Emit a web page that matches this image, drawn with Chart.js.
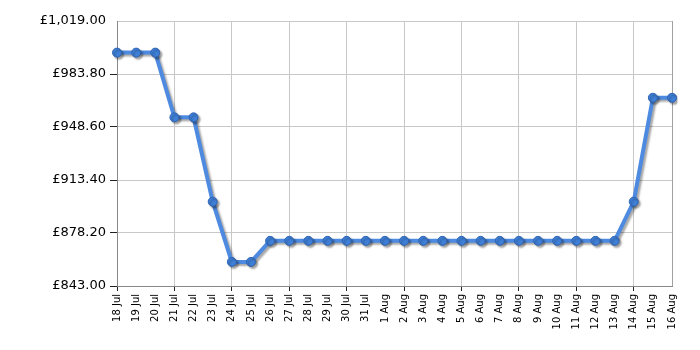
<!DOCTYPE html>
<html>
<head>
<meta charset="utf-8">
<script src="https://cdn.jsdelivr.net/npm/chart.js@4"></script>
<style>
  body { margin:0; background:#fff; }
</style>
</head>
<body>
<canvas id="price_chart" width="700" height="350"></canvas>
<script>
// data
var dates = ["18 Jul","19 Jul","20 Jul","21 Jul","22 Jul","23 Jul","24 Jul","25 Jul","26 Jul","27 Jul",
  "28 Jul","29 Jul","30 Jul","31 Jul","1 Aug","2 Aug","3 Aug","4 Aug","5 Aug","6 Aug",
  "7 Aug","8 Aug","9 Aug","10 Aug","11 Aug","12 Aug","13 Aug","14 Aug","15 Aug","16 Aug"];
var prices = [998, 998, 998, 955, 955, 899, 859, 859, 873, 873,
  873, 873, 873, 873, 873, 873, 873, 873, 873, 873,
  873, 873, 873, 873, 873, 873, 873, 899, 968, 968];
var yTicks = [843.00, 878.20, 913.40, 948.60, 983.80, 1019.00];

// grey drop shadow under the line + frame round the plot
var shadowPlugin = {
  id: "shadow",
  beforeDatasetsDraw: function(chart) {
    var ctx = chart.ctx;
    ctx.save();
    ctx.shadowColor = "rgba(0,0,0,0.35)";
    ctx.shadowBlur = 2;
    ctx.shadowOffsetX = 2;
    ctx.shadowOffsetY = 2;
  },
  afterDatasetsDraw: function(chart) {
    chart.ctx.restore();
  },
  beforeDraw: function(chart) {
    var a = chart.chartArea, ctx = chart.ctx;
    ctx.save();
    ctx.strokeStyle = "#a0a0a0";
    ctx.lineWidth = 1;
    ctx.strokeRect(a.left + 0.5, a.top + 0.5, a.right - a.left, a.bottom - a.top);
    ctx.restore();
  }
};

var c1 = document.getElementById("price_chart").getContext("2d");
var price_chart = new Chart(c1, {
  type: "line",
  data: {
    labels: dates,
    datasets: [{
      data: prices,
      borderColor: "#4d8ae0",
      borderWidth: 4,
      backgroundColor: "#3f7fd6",
      pointBackgroundColor: "#3f7fd6",
      pointBorderColor: "#2e63b3",
      pointBorderWidth: 1,
      pointRadius: 4.5,
      tension: 0,
      fill: false
    }]
  },
  plugins: [shadowPlugin],
  options: {
    responsive: false,
    animation: false,
    layout: { padding: { top: 21, right: 28, left: 0, bottom: 0 } },
    plugins: {
      legend: { display: false },
      tooltip: { enabled: false }
    },
    scales: {
      x: {
        offset: false,
        afterFit: function(scale) { scale.height = 64; },
        border: { color: "#888888" },
        grid: {
          color: function(c) { return c.index % 3 === 0 ? "#c8c8c8" : "rgba(0,0,0,0)"; },
          tickColor: function(c) { return c.index % 3 === 0 ? "#222222" : "rgba(0,0,0,0)"; },
          tickLength: 5
        },
        ticks: {
          autoSkip: false,
          minRotation: 90,
          maxRotation: 90,
          padding: 3,
          color: "#000",
          font: { family: "DejaVu Sans", size: 10 }
        }
      },
      y: {
        min: 843,
        max: 1019,
        afterFit: function(scale) { scale.width = 117; },
        afterBuildTicks: function(scale) {
          scale.ticks = yTicks.map(function(v) { return { value: v }; });
        },
        border: { color: "#888888" },
        grid: {
          color: "#c8c8c8",
          tickColor: function(c) { return c.index === yTicks.length - 1 ? "rgba(0,0,0,0)" : "#222222"; },
          tickLength: 7
        },
        ticks: {
          padding: 4,
          color: "#000",
          font: { family: "DejaVu Sans", size: 13 },
          callback: function(v) {
            return "£" + Number(v).toLocaleString("en-GB", { minimumFractionDigits: 2, maximumFractionDigits: 2 });
          }
        }
      }
    }
  }
});
</script>
</body>
</html>
